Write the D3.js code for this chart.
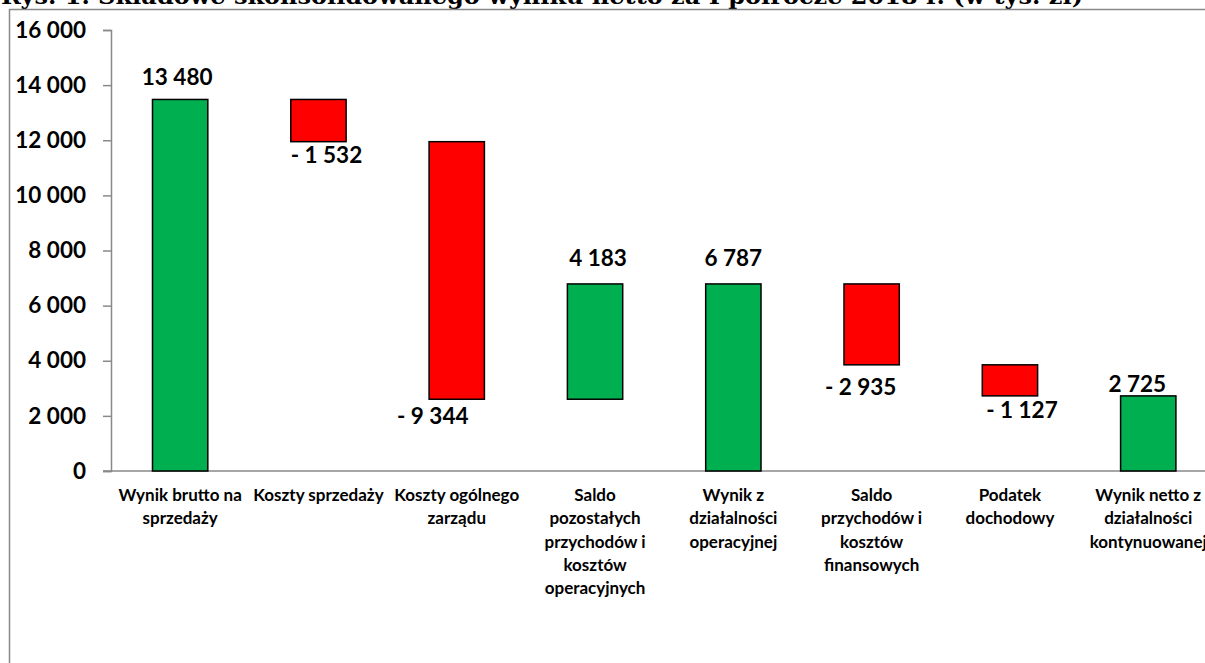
<!DOCTYPE html>
<html>
<head>
<meta charset="utf-8">
<script src="https://cdn.jsdelivr.net/npm/d3@7"></script>
<style>
  body { margin: 0; background: #fff; overflow: hidden; }
  svg { display: block; }
  .tick text { font-family: Lato, "Open Sans", sans-serif; font-weight: 700; }
</style>
</head>
<body>
<div id="container"></div>
<script>
/* DATA */
const categories = [
  "Wynik brutto na sprzedaży",
  "Koszty sprzedaży",
  "Koszty ogólnego zarządu",
  "Saldo pozostałych przychodów i kosztów operacyjnych",
  "Wynik z działalności operacyjnej",
  "Saldo przychodów i kosztów finansowych",
  "Podatek dochodowy",
  "Wynik netto z działalności kontynuowanej"
];
// wrapped lines of the category labels, as in the picture
const categoryLines = [
  ["Wynik brutto na", "sprzedaży"],
  ["Koszty sprzedaży"],
  ["Koszty ogólnego", "zarządu"],
  ["Saldo", "pozostałych", "przychodów i", "kosztów", "operacyjnych"],
  ["Wynik z", "działalności", "operacyjnej"],
  ["Saldo", "przychodów i", "kosztów", "finansowych"],
  ["Podatek", "dochodowy"],
  ["Wynik netto z", "działalności", "kontynuowanej"]
];
const values = [13480, -1532, -9344, 4183, 6787, -2935, -1127, 2725];
// true = total bar standing on zero
const isTotal = [true, false, false, false, true, false, false, true];
const yTicks = [0, 2000, 4000, 6000, 8000, 10000, 12000, 14000, 16000];
const titleText = "Rys. 1. Składowe skonsolidowanego wyniku netto za I półrocze 2018 r. (w tys. zł)";

/* LAYOUT */
const width = 1205, height = 663;
const plot = {left: 111, top: 30, bottom: 471, step: 138.3};
// small hand nudges of the value labels (dx, dy) like the Excel original
const labelNudge = [[-3, -22], [8, 13], [-24, 17], [3, -26], [0, -26], [-11, 22], [12, 14], [-11, -12]];

// running total -> start/end of each bar
let running = 0;
const bars = values.map((v, i) => {
  let y0, y1;
  if (isTotal[i]) { y0 = 0; y1 = v; running = v; }
  else { y0 = running; y1 = running + v; running = y1; }
  return {cat: categories[i], v, y0, y1, i};
});

const loc = d3.formatLocale({decimal: ",", thousands: " ", grouping: [3], currency: ["", ""]});
const fmt = loc.format(",d");
const fmtVal = v => v < 0 ? "- " + fmt(-v) : fmt(v);

const svg = d3.select("#container").append("svg")
  .attr("width", width).attr("height", height);

// title (cut off at the top of the picture)
svg.append("text")
  .attr("x", 1).attr("y", 4)
  .attr("font-family", "'DejaVu Serif', 'Liberation Serif', serif")
  .attr("font-weight", 700)
  .attr("font-size", 22)
  .attr("textLength", 1082)
  .attr("lengthAdjust", "spacingAndGlyphs")
  .text(titleText);

// chart border
svg.append("path")
  .attr("d", `M9.5,${height + 5} V9.5 H${width + 5}`)
  .attr("fill", "none").attr("stroke", "#888").attr("stroke-width", 1.5);

/* SCALES */
const xScale = d3.scaleBand()
  .domain(categories)
  .range([plot.left, plot.left + plot.step * categories.length])
  .paddingInner(0.6).paddingOuter(0.3);

const yScale = d3.scaleLinear()
  .domain([0, 16000])
  .range([plot.bottom, plot.top]);

const yAxis = d3.axisLeft(yScale)
  .tickValues(yTicks)
  .tickFormat(fmt)
  .tickSizeInner(8).tickSizeOuter(8).tickPadding(17);

const yAxisGroup = svg.append("g")
  .attr("transform", `translate(${plot.left},0)`)
  .call(yAxis);
yAxisGroup.selectAll("text").attr("font-size", 22.5).attr("fill", "#000");
yAxisGroup.selectAll("line, path").attr("stroke", "#898989").attr("stroke-width", 1.5);

// x axis line at zero
svg.append("line")
  .attr("x1", plot.left - 8).attr("x2", width + 5)
  .attr("y1", yScale(0)).attr("y2", yScale(0))
  .attr("stroke", "#898989").attr("stroke-width", 1.5);

/* BARS */
svg.selectAll(".bar")
  .data(bars)
  .join("rect")
  .attr("class", "bar")
  .attr("x", d => xScale(d.cat))
  .attr("width", xScale.bandwidth())
  .attr("y", d => yScale(Math.max(d.y0, d.y1)))
  .attr("height", d => Math.abs(yScale(d.y0) - yScale(d.y1)))
  .attr("fill", d => d.v < 0 ? "#FF0000" : "#00B050")
  .attr("stroke", "#000")
  .attr("stroke-width", 1.5);

// value labels
svg.selectAll(".val")
  .data(bars)
  .join("text")
  .attr("class", "val")
  .attr("x", d => xScale(d.cat) + xScale.bandwidth() / 2 + labelNudge[d.i][0])
  .attr("y", d => (d.v < 0 ? yScale(Math.min(d.y0, d.y1)) : yScale(Math.max(d.y0, d.y1))) + labelNudge[d.i][1])
  .attr("dy", "0.35em")
  .attr("text-anchor", "middle")
  .attr("font-family", "Lato, 'Open Sans', sans-serif")
  .attr("font-weight", 700)
  .attr("font-size", 22.5)
  .text(d => fmtVal(d.v));

// category labels
const catG = svg.selectAll(".cat")
  .data(bars)
  .join("text")
  .attr("class", "cat")
  .attr("text-anchor", "middle")
  .attr("font-family", "Lato, 'Open Sans', sans-serif")
  .attr("font-weight", 700)
  .attr("font-size", 17)
  .attr("fill", "#000");

catG.selectAll("tspan")
  .data(d => categoryLines[d.i].map(t => ({t, x: xScale(d.cat) + xScale.bandwidth() / 2})))
  .join("tspan")
  .attr("x", d => d.x)
  .attr("y", (d, j) => 501 + j * 23.3)
  .text(d => d.t);
</script>
</body>
</html>
